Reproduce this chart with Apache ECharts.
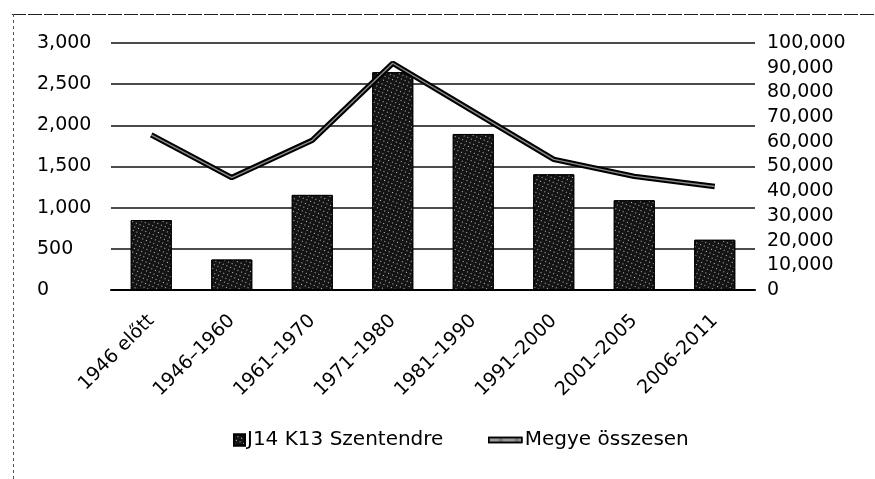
<!DOCTYPE html>
<html>
<head>
<meta charset="utf-8">
<script src="https://cdn.jsdelivr.net/npm/echarts@6/dist/echarts.min.js"></script>
<style>
  html, body { margin: 0; padding: 0; background: #fff; }
  #chart { width: 875px; height: 479px; }
</style>
</head>
<body>
<div id="chart"></div>
<script>
// Building periods
const categories = ['1946 előtt', '1946–1960', '1961–1970', '1971–1980', '1981–1990', '1991–2000', '2001–2005', '2006-2011'];
// Dwellings in the district (left axis)
const szentendre = [850, 370, 1155, 2645, 1895, 1405, 1090, 610];
// County total (right axis)
const megye = [62800, 45500, 60600, 91800, 72300, 52900, 46000, 41900];

const leftTicks = { min: 0, max: 3000, interval: 500 };
const rightTicks = { min: 0, max: 100000, interval: 10000 };

const FONT = 'DejaVu Sans';
const fmt = v => v.toLocaleString('en-US');

const chart = echarts.init(document.getElementById('chart'), null, { renderer: 'canvas' });

chart.setOption({
  backgroundColor: '#fff',
  animation: false,
  aria: { enabled: true, decal: { show: true } },
  grid: { left: 111, right: 120, top: 43, bottom: 189, containLabel: false },
  legend: [
    {
      data: [{ name: 'J14 K13 Szentendre', icon: 'rect' }],
      left: 228, top: 425,
      itemWidth: 11, itemHeight: 11, itemGap: 0,
      textStyle: { fontFamily: FONT, fontSize: 20, color: '#000', padding: [0, 0, 0, -3] }
    },
    {
      data: [{ name: 'Megye összesen', icon: 'rect', itemStyle: { color: '#9a9a9a', borderColor: '#000', borderWidth: 1.5 } }],
      left: 483, top: 425,
      itemWidth: 33, itemHeight: 5, itemGap: 0,
      textStyle: { fontFamily: FONT, fontSize: 20, color: '#000', padding: [0, 0, 0, -2] }
    }
  ],
  xAxis: {
    type: 'category',
    data: categories,
    axisLine: { show: true, lineStyle: { color: '#000', width: 2 } },
    axisTick: { show: false },
    axisLabel: {
      rotate: 45, margin: 28, interval: 0,
      fontFamily: FONT, fontSize: 19, color: '#000'
    }
  },
  yAxis: [
    {
      type: 'value', position: 'left',
      min: leftTicks.min, max: leftTicks.max, interval: leftTicks.interval,
      axisLine: { show: false }, axisTick: { show: false },
      axisLabel: { align: 'left', margin: 74, fontFamily: FONT, fontSize: 19, color: '#000', formatter: fmt },
      splitLine: { show: true, lineStyle: { color: '#111', width: 1.6 } }
    },
    {
      type: 'value', position: 'right',
      min: rightTicks.min, max: rightTicks.max, interval: rightTicks.interval,
      axisLine: { show: false }, axisTick: { show: false },
      axisLabel: { margin: 12, fontFamily: FONT, fontSize: 19, color: '#000', formatter: fmt },
      splitLine: { show: false }
    }
  ],
  series: [
    {
      name: 'J14 K13 Szentendre',
      type: 'bar',
      yAxisIndex: 0,
      data: szentendre,
      barWidth: 41,
      itemStyle: {
        color: '#141414',
        borderColor: '#000',
        borderWidth: 1,
        decal: {
          symbol: 'rect', symbolSize: 1,
          dashArrayX: [1, 3], dashArrayY: [1, 3],
          rotation: 0.4,
          color: 'rgba(255,255,255,0.75)'
        }
      },
      z: 2
    },
    {
      name: 'Megye összesen',
      type: 'line',
      yAxisIndex: 1,
      data: megye,
      symbol: 'none',
      lineStyle: { color: '#000', width: 5.5 },
      itemStyle: { color: '#000' },
      z: 3
    },
    {
      // light inner stroke giving the county line its double-edged look
      name: 'Megye összesen (belső)',
      type: 'line',
      yAxisIndex: 1,
      data: megye,
      symbol: 'none',
      silent: true,
      lineStyle: { color: '#8a8a8a', width: 1.4 },
      z: 4
    }
  ],
  graphic: [
    { type: 'line', shape: { x1: 12, y1: 14.5, x2: 875, y2: 14.5 }, style: { stroke: '#222', lineWidth: 1.2, lineDash: [14, 2] }, silent: true },
    { type: 'line', shape: { x1: 13.5, y1: 14, x2: 13.5, y2: 479 }, style: { stroke: '#555', lineWidth: 1, lineDash: [3, 3] }, silent: true }
  ]
});
</script>
</body>
</html>
